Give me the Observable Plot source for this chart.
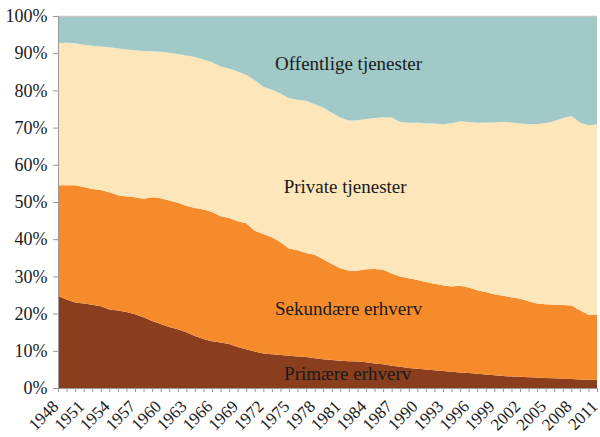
<!DOCTYPE html>
<html><head><meta charset="utf-8">
<script src="https://cdn.jsdelivr.net/npm/d3@7"></script>
<script src="https://cdn.jsdelivr.net/npm/@observablehq/plot@0.6"></script>
<style>body{margin:0;background:#fff}</style>
</head><body><div id="chart"></div>
<script>
const years = [1948,1949,1950,1951,1952,1953,1954,1955,1956,1957,1958,1959,1960,1961,1962,1963,1964,1965,1966,1967,1968,1969,1970,1971,1972,1973,1974,1975,1976,1977,1978,1979,1980,1981,1982,1983,1984,1985,1986,1987,1988,1989,1990,1991,1992,1993,1994,1995,1996,1997,1998,1999,2000,2001,2002,2003,2004,2005,2006,2007,2008,2009,2010,2011];
const primaere = [24.7,23.8,23.0,22.7,22.4,22.0,21.1,20.8,20.4,19.8,19.0,18.0,17.2,16.4,15.8,15.0,14.0,13.2,12.6,12.2,11.8,11.0,10.4,9.8,9.3,9.1,8.9,8.7,8.5,8.3,8.0,7.7,7.5,7.3,7.2,7.1,6.9,6.6,6.4,6.0,5.7,5.4,5.2,5.0,4.8,4.6,4.4,4.2,4.0,3.8,3.6,3.4,3.2,3.1,3.0,2.9,2.8,2.7,2.6,2.5,2.4,2.3,2.2,2.2];
const sekundaere = [29.8,30.7,31.5,31.3,31.1,31.2,31.5,31.0,31.1,31.5,31.9,33.3,33.8,34.0,34.0,34.0,34.4,34.8,34.7,34.0,33.9,33.8,33.9,32.5,32.1,31.4,30.3,28.8,28.5,28.0,27.8,26.9,25.8,24.9,24.3,24.4,25.0,25.4,25.4,24.8,24.3,24.1,23.8,23.5,23.2,23.0,22.9,23.3,23.0,22.5,22.2,21.8,21.6,21.3,21.0,20.4,19.9,19.8,19.8,19.8,19.8,18.6,17.5,17.5];
const private_ = [38.2,38.3,38.2,38.3,38.5,38.6,39.0,39.5,39.5,39.5,39.7,39.2,39.4,39.7,40.0,40.4,40.6,40.3,40.3,40.2,40.2,40.3,39.9,40.4,39.6,39.7,40.0,40.4,40.5,40.9,40.5,40.8,40.7,40.5,40.4,40.5,40.4,40.6,41.0,41.9,41.5,41.8,42.3,42.7,43.1,43.3,43.9,44.2,44.5,45.0,45.6,46.2,46.7,47.0,47.1,47.6,48.3,48.7,49.4,50.2,50.9,50.5,50.9,51.2];
const offentlige = [7.3,7.2,7.3,7.7,8.0,8.2,8.4,8.7,9.0,9.2,9.4,9.5,9.6,9.9,10.2,10.6,11.0,11.7,12.4,13.6,14.1,14.9,15.8,17.3,19.0,19.8,20.8,22.1,22.5,22.8,23.7,24.6,26.0,27.3,28.1,28.0,27.7,27.4,27.2,27.3,28.5,28.7,28.7,28.8,28.9,29.1,28.8,28.3,28.5,28.7,28.6,28.6,28.5,28.6,28.9,29.1,29.0,28.8,28.2,27.5,26.9,28.6,29.4,29.1];
const sectors = ["Primære erhverv","Sekundære erhverv","Private tjenester","Offentlige tjenester"];
const colors = ["#8b3e1e","#f68b2c","#fde7ba","#a0c9c7"];
const yTicks = [0,10,20,30,40,50,60,70,80,90,100];
const xLabelYears = [1948,1951,1954,1957,1960,1963,1966,1969,1972,1975,1978,1981,1984,1987,1990,1993,1996,1999,2002,2005,2008,2011];

const seriesValues = [primaere, sekundaere, private_, offentlige];
const table = [];
sectors.forEach((s, i) => years.forEach((yr, j) => table.push({sector: s, year: yr, share: seriesValues[i][j]})));

const labels = [
  {text: "Offentlige tjenester", year: 1981.9, y: 87.2},
  {text: "Private tjenester", year: 1981.5, y: 54.1},
  {text: "Sekundære erhverv", year: 1981.9, y: 21.3},
  {text: "Primære erhverv", year: 1981.8, y: 3.8}
];

const serif = "'Liberation Serif', 'DejaVu Serif', serif";
const chart = Plot.plot({
  width: 600, height: 437,
  marginLeft: 58, marginRight: 3, marginTop: 16, marginBottom: 49,
  style: {fontFamily: serif, background: "#fff", color: "#1a1a1a"},
  x: {domain: [1948, 2011]},
  y: {domain: [0, 100]},
  color: {domain: sectors, range: colors},
  marks: [
    Plot.areaY(table, {x: "year", y: "share", fill: "sector", z: "sector", order: sectors, curve: "linear"}),
    Plot.ruleY([100], {stroke: "#c8c8c8", strokeWidth: 1.5}),
    Plot.ruleY([0], {stroke: "#999"}),
    Plot.ruleX([1948], {stroke: "#999"}),
    Plot.axisY({ticks: yTicks, tickSize: 5, stroke: "#999", text: null, label: null}),
    Plot.axisX({ticks: years, tickSize: 4, stroke: "#999", text: null, label: null}),
    Plot.text(yTicks, {x: 1948, y: d => d, text: d => d + "%", textAnchor: "end", dx: -11, fontSize: 18, fill: "#1a1a1a"}),
    Plot.text(xLabelYears, {x: d => d, y: 0, text: d => String(d), rotate: -45, textAnchor: "end", lineAnchor: "bottom", dx: 1, dy: 19, fontSize: 17, fill: "#1a1a1a"}),
    Plot.text(labels, {x: "year", y: "y", text: "text", fontSize: 19, fill: "#1a1a1a"})
  ]
});
document.getElementById("chart").appendChild(chart);
</script>
</body></html>
